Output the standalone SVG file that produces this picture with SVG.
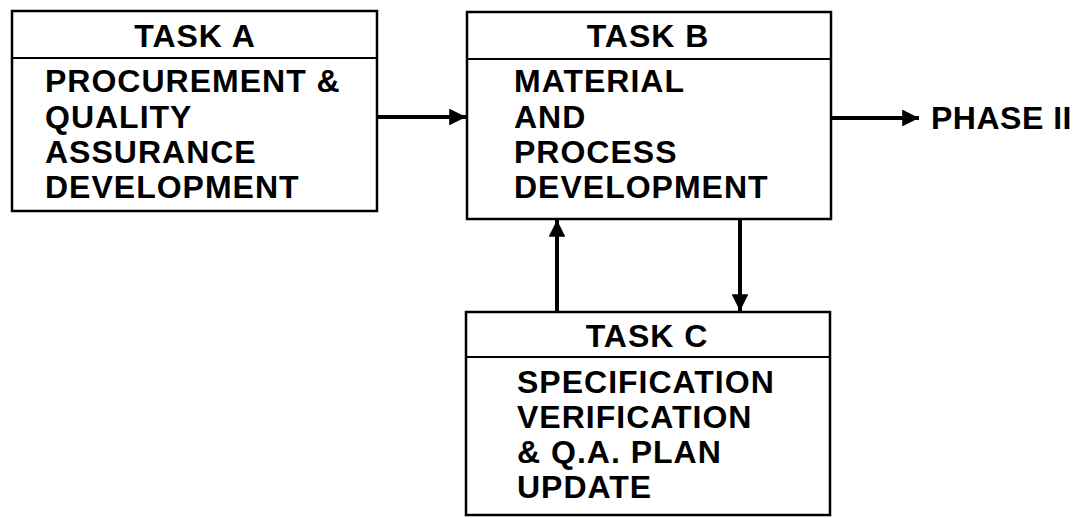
<svg xmlns="http://www.w3.org/2000/svg" width="1078" height="518" viewBox="0 0 1078 518">
<style>
.box{fill:#fff;stroke:#000;stroke-width:2.5}
.div{stroke:#000;stroke-width:2}
.t{font-family:"Liberation Sans",Arial,sans-serif;font-weight:bold;font-size:32px;fill:#000;letter-spacing:1px}
.h{text-anchor:middle}
.c{stroke:#000;stroke-width:4;fill:none}
</style>
<defs>
<marker id="ah" viewBox="0 0 10 10" refX="10" refY="5" markerWidth="4.2" markerHeight="4.2" orient="auto" markerUnits="strokeWidth">
<path d="M0,0 L10,5 L0,10 z" fill="#000"/>
</marker>
</defs>
<rect width="1078" height="518" fill="#fff"/>
<g id="taskA">
<rect class="box" x="12" y="11" width="365" height="200"/>
<line class="div" x1="12" y1="58" x2="377" y2="58"/>
<text class="t h" x="195" y="47">TASK A</text>
<text class="t" x="45" y="92">PROCUREMENT &amp;</text>
<text class="t" x="45" y="128">QUALITY</text>
<text class="t" x="45" y="163">ASSURANCE</text>
<text class="t" x="45" y="198">DEVELOPMENT</text>
</g>
<g id="taskB">
<rect class="box" x="467" y="12" width="364" height="207"/>
<line class="div" x1="467" y1="59" x2="831" y2="59"/>
<text class="t h" x="648" y="47">TASK B</text>
<text class="t" x="514" y="92">MATERIAL</text>
<text class="t" x="514" y="128">AND</text>
<text class="t" x="514" y="163">PROCESS</text>
<text class="t" x="514" y="198">DEVELOPMENT</text>
</g>
<g id="taskC">
<rect class="box" x="466" y="312" width="364" height="203"/>
<line class="div" x1="466" y1="357" x2="830" y2="357"/>
<text class="t h" x="647" y="347">TASK C</text>
<text class="t" x="517" y="393">SPECIFICATION</text>
<text class="t" x="517" y="428">VERIFICATION</text>
<text class="t" x="517" y="463">&amp; Q.A. PLAN</text>
<text class="t" x="517" y="498">UPDATE</text>
</g>
<g id="phase2">
<text class="t" x="931" y="129" style="letter-spacing:0.5px">PHASE II</text>
</g>
<g id="connectors">
<line class="c" x1="377" y1="117" x2="466" y2="117" marker-end="url(#ah)"/>
<line class="c" x1="831" y1="118" x2="919" y2="118" marker-end="url(#ah)"/>
<line class="c" x1="557" y1="312" x2="557" y2="220" marker-end="url(#ah)"/>
<line class="c" x1="740" y1="219" x2="740" y2="311" marker-end="url(#ah)"/>
</g>
</svg>
